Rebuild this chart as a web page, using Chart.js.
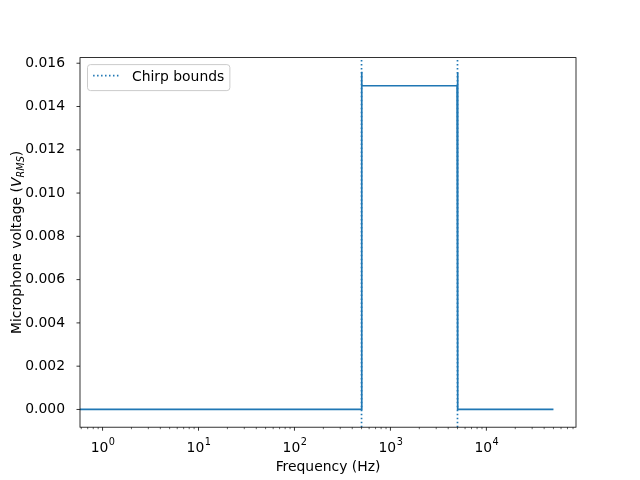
<!DOCTYPE html>
<html>
<head>
<meta charset="utf-8">
<script src="https://cdn.jsdelivr.net/npm/chart.js@4.4.1/dist/chart.umd.min.js"></script>
<style>
  html, body { margin: 0; padding: 0; background: #fff; }
</style>
</head>
<body>
<canvas id="chart" width="640" height="480"></canvas>
<script>
// data
const freqHz  = [0.5, 495, 500, 505, 4950, 5000, 5050, 50000];
const voltRms = [0, 0, 0.01561, 0.01496, 0.01496, 0.01557, 0, 0];
const chirpBounds = [500, 5000];

const xTicks = [1, 10, 100, 1000, 10000];
const xTickExp = ['0', '1', '2', '3', '4'];
const yTicks = [0, 0.002, 0.004, 0.006, 0.008, 0.010, 0.012, 0.014, 0.016];

const xRange = [0.582, 85900];
const yRange = [-0.00082, 0.01626];

const C0 = '#1f77b4';
const FONT = '"DejaVu Sans", sans-serif';
const FS = 13.9;
const DOTS = [1.5, 2.475];
const LW = 1.7;

// spines, tick marks, x tick labels, axis titles and legend
const decor = {
    id: 'decor',
    afterDraw(chart) {
        const ctx = chart.ctx;
        const a = chart.chartArea;
        const xs = chart.scales.x, ys = chart.scales.y;
        ctx.save();

        // ticks
        ctx.strokeStyle = '#000';
        ctx.lineWidth = 0.8;
        ctx.beginPath();
        yTicks.forEach(v => {
            const y = ys.getPixelForValue(v);
            ctx.moveTo(a.left, y); ctx.lineTo(a.left - 3.5, y);
        });
        xTicks.forEach(v => {
            const x = xs.getPixelForValue(v);
            ctx.moveTo(x, a.bottom); ctx.lineTo(x, a.bottom + 3.5);
        });
        ctx.stroke();

        ctx.lineWidth = 0.6;
        ctx.beginPath();
        for (let k = -1; k <= 4; k++) {
            for (let m = 2; m <= 9; m++) {
                const v = m * Math.pow(10, k);
                if (v < xRange[0] || v > xRange[1]) continue;
                const x = xs.getPixelForValue(v);
                ctx.moveTo(x, a.bottom); ctx.lineTo(x, a.bottom + 2);
            }
        }
        ctx.stroke();

        // frame
        ctx.lineWidth = 0.8;
        ctx.strokeRect(a.left, a.top, a.right - a.left, a.bottom - a.top);

        const fN = FS + 'px ' + FONT;
        const fI = 'oblique ' + FS + 'px ' + FONT;
        const fSup = (FS * 0.7) + 'px ' + FONT;
        const fSub = 'oblique ' + (FS * 0.7) + 'px ' + FONT;

        // x tick labels: 10 with raised exponent
        ctx.fillStyle = '#000';
        ctx.textAlign = 'left';
        ctx.textBaseline = 'alphabetic';
        xTicks.forEach((v, i) => {
            const cx = xs.getPixelForValue(v);
            ctx.font = fN; const wb = ctx.measureText('10').width;
            ctx.font = fSup; const we = ctx.measureText(xTickExp[i]).width;
            const x0 = cx - (wb + we) / 2;
            const base = a.bottom + 24.3;
            ctx.font = fN; ctx.fillText('10', x0, base);
            ctx.font = fSup; ctx.fillText(xTickExp[i], x0 + wb + 0.5, base - 6.2);
        });

        // x title
        ctx.font = fN;
        ctx.textAlign = 'center';
        ctx.fillText('Frequency (Hz)', (a.left + a.right) / 2, 470.5);

        // y title with subscript
        ctx.save();
        ctx.translate(21, (a.top + a.bottom) / 2);
        ctx.rotate(-Math.PI / 2);
        ctx.textAlign = 'left';
        const p1 = 'Microphone voltage (', p2 = 'V', p3 = 'RMS', p4 = ')';
        ctx.font = fN; const w1 = ctx.measureText(p1).width, w4 = ctx.measureText(p4).width;
        ctx.font = fI; const w2 = ctx.measureText(p2).width;
        ctx.font = fSub; const w3 = ctx.measureText(p3).width;
        let x = -(w1 + w2 + w3 + w4) / 2;
        ctx.font = fN; ctx.fillText(p1, x, 0); x += w1;
        ctx.font = fI; ctx.fillText(p2, x, 0); x += w2;
        ctx.font = fSub; ctx.fillText(p3, x, 2.6); x += w3;
        ctx.font = fN; ctx.fillText(p4, x, 0);
        ctx.restore();

        // legend
        const label = 'Chirp bounds';
        ctx.font = fN;
        const tw = ctx.measureText(label).width;
        const bx = a.left + 7.5, by = a.top + 7, bh = 26;
        const tx = bx + 5.6 + 27.8 + 11.1;
        const bw = tx + tw + 5.6 - bx;
        ctx.beginPath();
        ctx.roundRect(bx, by, bw, bh, 3);
        ctx.fillStyle = 'rgba(255,255,255,0.8)';
        ctx.fill();
        ctx.strokeStyle = '#cccccc';
        ctx.lineWidth = 1;
        ctx.stroke();

        ctx.strokeStyle = C0;
        ctx.lineWidth = LW;
        ctx.setLineDash(DOTS);
        ctx.beginPath();
        ctx.moveTo(bx + 5.6, by + 11); ctx.lineTo(bx + 5.6 + 27.8, by + 11);
        ctx.stroke();
        ctx.setLineDash([]);

        ctx.fillStyle = '#000';
        ctx.textAlign = 'left';
        ctx.fillText(label, tx, by + 16.2);

        ctx.restore();
    }
};

const datasets = [{
    label: 'signal',
    data: freqHz.map((f, i) => ({ x: f, y: voltRms[i] })),
    borderColor: C0,
    borderWidth: LW,
    pointRadius: 0,
    tension: 0,
    fill: false
}];
chirpBounds.forEach(f => {
    datasets.push({
        label: 'Chirp bounds',
        data: [{ x: f, y: yRange[0] }, { x: f, y: yRange[1] }],
        borderColor: C0,
        borderWidth: LW,
        borderDash: DOTS,
        borderCapStyle: 'butt',
        pointRadius: 0,
        fill: false
    });
});

new Chart(document.getElementById('chart'), {
    type: 'line',
    data: { datasets: datasets },
    options: {
        responsive: false,
        animation: false,
        layout: { padding: { top: 57.6, right: 64, left: 0, bottom: 0 } },
        plugins: { legend: { display: false }, tooltip: { enabled: false } },
        scales: {
            x: {
                type: 'logarithmic',
                min: xRange[0],
                max: xRange[1],
                afterBuildTicks: s => { s.ticks = xTicks.map(v => ({ value: v })); },
                afterFit: s => { s.height = 52.8; },
                grid: { display: false },
                border: { display: false },
                ticks: { display: false }
            },
            y: {
                type: 'linear',
                min: yRange[0],
                max: yRange[1],
                afterBuildTicks: s => { s.ticks = yTicks.map(v => ({ value: v })); },
                afterFit: s => { s.width = 80; },
                grid: { display: false },
                border: { display: false },
                ticks: {
                    padding: 7,
                    color: '#000',
                    font: { family: FONT, size: FS },
                    callback: v => v.toFixed(3)
                }
            }
        }
    },
    plugins: [decor]
});
</script>
</body>
</html>
